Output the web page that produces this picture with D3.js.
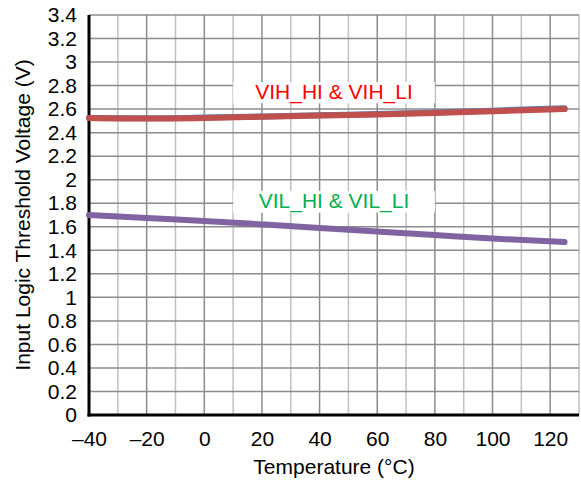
<!DOCTYPE html>
<html>
<head>
<meta charset="utf-8">
<script src="https://cdn.jsdelivr.net/npm/d3@7"></script>
<style>
  body { margin: 0; background: #fff; }
  svg text { font-family: "Liberation Sans", Arial, sans-serif; }
</style>
</head>
<body>
<div id="chart"></div>
<script>
// temperatures (°C) the curves were read at
var temps = [-40, -20, 0, 20, 40, 60, 80, 100, 125];
// VIH lines (blue mostly hidden under red)
var vihLI = [2.525, 2.522, 2.528, 2.538, 2.548, 2.558, 2.571, 2.587, 2.608];
var vihHI = [2.525, 2.52, 2.525, 2.535, 2.545, 2.555, 2.567, 2.582, 2.60];
// VIL line
var vil = [1.70, 1.675, 1.65, 1.62, 1.59, 1.56, 1.53, 1.50, 1.47];

var xTicks = [-40, -20, 0, 20, 40, 60, 80, 100, 120];
var yTicks = [0, 0.2, 0.4, 0.6, 0.8, 1, 1.2, 1.4, 1.6, 1.8, 2, 2.2, 2.4, 2.6, 2.8, 3, 3.2, 3.4];

var labels = [
    { text: "VIH_HI & VIH_LI", color: "#ff0000", x0: 10, x1: 80, y0: 2.83, y1: 2.65 },
    { text: "VIL_HI & VIL_LI", color: "#00b050", x0: 10, x1: 80, y0: 1.905, y1: 1.72 }
];

var margin = { top: 15, right: 2, bottom: 66, left: 89 };
var width = 581 - margin.left - margin.right,
    height = 481 - margin.top - margin.bottom;

var svg = d3.select("#chart").append("svg")
    .attr("width", 581)
    .attr("height", 481)
    .append("g")
    .attr("transform", "translate(" + margin.left + "," + margin.top + ")");

var x = d3.scaleLinear().domain([-40, 130]).range([0, width]);
var y = d3.scaleLinear().domain([0, 3.4]).range([height, 0]);

// vertical grid, every 10 deg, darker on the labelled ticks
svg.selectAll("line.vgrid")
    .data(d3.range(-30, 131, 10))
    .enter()
    .append("line")
    .attr("class", "vgrid")
    .attr("x1", function(d) { return x(d); })
    .attr("x2", function(d) { return x(d); })
    .attr("y1", 0)
    .attr("y2", height)
    .attr("stroke", function(d) { return d % 20 == 0 ? "#8c8c8c" : "#c0c0c0"; })
    .attr("stroke-width", 1.5);

// horizontal grid
svg.selectAll("line.hgrid")
    .data(yTicks.slice(1))
    .enter()
    .append("line")
    .attr("class", "hgrid")
    .attr("x1", 0)
    .attr("x2", width)
    .attr("y1", function(d) { return y(d); })
    .attr("y2", function(d) { return y(d); })
    .attr("stroke", "#8c8c8c")
    .attr("stroke-width", 1.5);

// axes
var xAxis = d3.axisBottom(x).tickValues(xTicks).tickSize(0).tickPadding(16)
    .tickFormat(function(d) { return d < 0 ? "\u2013" + Math.abs(d) : d; });
var yAxis = d3.axisLeft(y).tickValues(yTicks).tickSize(0).tickPadding(12)
    .tickFormat(function(d) { return d3.format("")(+d.toFixed(1)); });

svg.append("g")
    .attr("transform", "translate(0," + height + ")")
    .call(xAxis)
    .call(function(g) { g.select(".domain").remove(); })
    .selectAll("text")
    .attr("font-size", "21px")
    .attr("fill", "#000");

svg.append("g")
    .call(yAxis)
    .call(function(g) { g.select(".domain").remove(); })
    .selectAll("text")
    .attr("font-size", "21px")
    .attr("fill", "#000");

svg.append("line")
    .attr("x1", 0).attr("x2", 0)
    .attr("y1", 0).attr("y2", height + 1.5)
    .attr("stroke", "#000").attr("stroke-width", 3);
svg.append("line")
    .attr("x1", -1.5).attr("x2", width)
    .attr("y1", height).attr("y2", height)
    .attr("stroke", "#000").attr("stroke-width", 3);

// curves
var line = d3.line()
    .x(function(d) { return x(d[0]); })
    .y(function(d) { return y(d[1]); })
    .curve(d3.curveMonotoneX);

var series = [
    { values: vihLI, color: "#4f81bd" },
    { values: vihHI, color: "#c0504d" },
    { values: vil, color: "#8064a2" }
];

svg.selectAll("path.curve")
    .data(series)
    .enter()
    .append("path")
    .attr("class", "curve")
    .attr("fill", "none")
    .attr("stroke", function(d) { return d.color; })
    .attr("stroke-width", 6)
    .attr("stroke-linecap", "round")
    .attr("d", function(d) {
        return line(temps.map(function(t, i) { return [t, d.values[i]]; }));
    });

// labels in white boxes
var lab = svg.selectAll("g.lab")
    .data(labels)
    .enter()
    .append("g")
    .attr("class", "lab");

lab.append("rect")
    .attr("x", function(d) { return x(d.x0); })
    .attr("y", function(d) { return y(d.y0); })
    .attr("width", function(d) { return x(d.x1) - x(d.x0); })
    .attr("height", function(d) { return y(d.y1) - y(d.y0); })
    .attr("fill", "#fff");

lab.append("text")
    .attr("x", function(d) { return (x(d.x0) + x(d.x1)) / 2; })
    .attr("y", function(d) { return (y(d.y0) + y(d.y1)) / 2 + 6; })
    .attr("text-anchor", "middle")
    .attr("font-size", "21px")
    .attr("fill", function(d) { return d.color; })
    .text(function(d) { return d.text; });

// axis titles
svg.append("text")
    .attr("x", x(45))
    .attr("y", height + 59)
    .attr("text-anchor", "middle")
    .attr("font-size", "21px")
    .text("Temperature (\u00b0C)");

svg.append("text")
    .attr("transform", "translate(-59," + (height / 2) + ") rotate(-90)")
    .attr("text-anchor", "middle")
    .attr("font-size", "21px")
    .text("Input Logic Threshold Voltage (V)");
</script>
</body>
</html>
